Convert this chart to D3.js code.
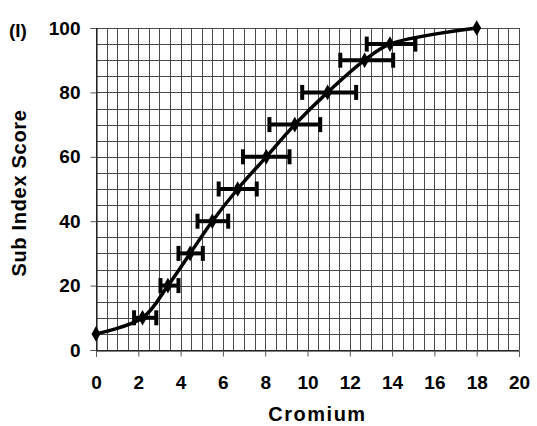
<!DOCTYPE html>
<html>
<head>
<meta charset="utf-8">
<script src="https://cdn.jsdelivr.net/npm/d3@7"></script>
<style>
  body { margin: 0; background: #fff; }
  text { font-family: "Liberation Sans", Arial, sans-serif; font-weight: bold; fill: #000; }
</style>
</head>
<body>
<svg id="chart"></svg>
<script>
// values
const cromium = [0, 2.2, 3.4, 4.45, 5.5, 6.7, 8.05, 9.4, 10.95, 12.7, 13.9, 18];
const score = [5, 10, 20, 30, 40, 50, 60, 70, 80, 90, 95, 100];
const errLow = [null, 1.8, 3.05, 3.9, 4.8, 5.8, 6.95, 8.2, 9.75, 11.55, 12.8, null];
const errHigh = [null, 2.85, 3.9, 5.05, 6.25, 7.6, 9.15, 10.6, 12.3, 14.05, 15.1, null];
const xTicks = [0, 2, 4, 6, 8, 10, 12, 14, 16, 18, 20];
const yTicks = [0, 20, 40, 60, 80, 100];

const width = 537;
const height = 426;
const margin = { top: 28, right: 18, bottom: 76, left: 96 };

const data = cromium.map((c, i) => ({ x: c, y: score[i], lo: errLow[i], hi: errHigh[i] }));

const x = d3.scaleLinear().domain([0, 20]).range([margin.left, width - margin.right]);
const y = d3.scaleLinear().domain([0, 100]).range([height - margin.bottom, margin.top]);

const svg = d3.select("#chart").attr("width", width).attr("height", height);

// grid
const grid = svg.append("g").attr("stroke", "#4a4a4a").attr("stroke-width", 1).attr("shape-rendering", "crispEdges");
grid.selectAll(".vx")
  .data(d3.range(0, 20.01, 0.5))
  .join("line")
  .attr("x1", (d) => Math.round(x(d)) + 0.5)
  .attr("x2", (d) => Math.round(x(d)) + 0.5)
  .attr("y1", y(0))
  .attr("y2", y(100));
grid.selectAll(".hy")
  .data(d3.range(0, 100.01, 5))
  .join("line")
  .attr("y1", (d) => Math.round(y(d)) + 0.5)
  .attr("y2", (d) => Math.round(y(d)) + 0.5)
  .attr("x1", x(0))
  .attr("x2", x(20));

// axes
const xAxis = (g) =>
  g
    .attr("transform", `translate(0,${Math.round(y(0)) + 0.5})`)
    .call(d3.axisBottom(x).tickValues(xTicks).tickSize(6).tickPadding(19))
    .call((g) => g.select(".domain").attr("stroke", "#000"))
    .call((g) => g.selectAll(".tick line").attr("stroke", "#555"))
    .call((g) => g.selectAll("text").attr("font-size", 19).attr("font-family", null));

const yAxis = (g) =>
  g
    .attr("transform", `translate(${Math.round(x(0)) + 0.5},0)`)
    .call(d3.axisLeft(y).tickValues(yTicks).tickSize(6).tickPadding(10))
    .call((g) => g.select(".domain").attr("stroke", "#000"))
    .call((g) => g.selectAll(".tick line").attr("stroke", "#555"))
    .call((g) => g.selectAll("text").attr("font-size", 19).attr("font-family", null));

svg.append("g").call(xAxis);
svg.append("g").call(yAxis);

// error bars
const bars = svg.append("g").attr("stroke", "#000").attr("stroke-width", 4).attr("fill", "none");
const withErr = data.filter((d) => d.lo != null);
bars.selectAll(".h")
  .data(withErr)
  .join("line")
  .attr("x1", (d) => x(d.lo))
  .attr("x2", (d) => x(d.hi))
  .attr("y1", (d) => y(d.y))
  .attr("y2", (d) => y(d.y));
bars.selectAll(".capl")
  .data(withErr)
  .join("line")
  .attr("x1", (d) => x(d.lo))
  .attr("x2", (d) => x(d.lo))
  .attr("y1", (d) => y(d.y) - 7.5)
  .attr("y2", (d) => y(d.y) + 7.5);
bars.selectAll(".caph")
  .data(withErr)
  .join("line")
  .attr("x1", (d) => x(d.hi))
  .attr("x2", (d) => x(d.hi))
  .attr("y1", (d) => y(d.y) - 7.5)
  .attr("y2", (d) => y(d.y) + 7.5);

// smoothed line
const line = d3.line()
  .curve(d3.curveCatmullRom.alpha(0.5))
  .x((d) => x(d.x))
  .y((d) => y(d.y));

svg.append("path")
  .datum(data)
  .attr("fill", "none")
  .attr("stroke", "#000")
  .attr("stroke-width", 3.5)
  .attr("stroke-linejoin", "round")
  .attr("d", line);

// markers
svg.append("g")
  .selectAll("path")
  .data(data)
  .join("path")
  .attr("transform", (d) => `translate(${x(d.x)},${y(d.y)})`)
  .attr("d", d3.symbol(d3.symbolDiamond, 70))
  .attr("fill", "#000");

// labels
svg.append("text")
  .attr("x", (margin.left + width - margin.right) / 2 + 10)
  .attr("y", 421)
  .attr("text-anchor", "middle")
  .attr("font-size", 20)
  .attr("letter-spacing", 1.5)
  .text("Cromium");

svg.append("text")
  .attr("transform", `translate(26,${193}) rotate(-90)`)
  .attr("text-anchor", "middle")
  .attr("font-size", 20)
  .attr("letter-spacing", 0.7)
  .text("Sub Index Score");

svg.append("text")
  .attr("x", 9)
  .attr("y", 37)
  .attr("font-size", 19)
  .text("(I)");
</script>
</body>
</html>
